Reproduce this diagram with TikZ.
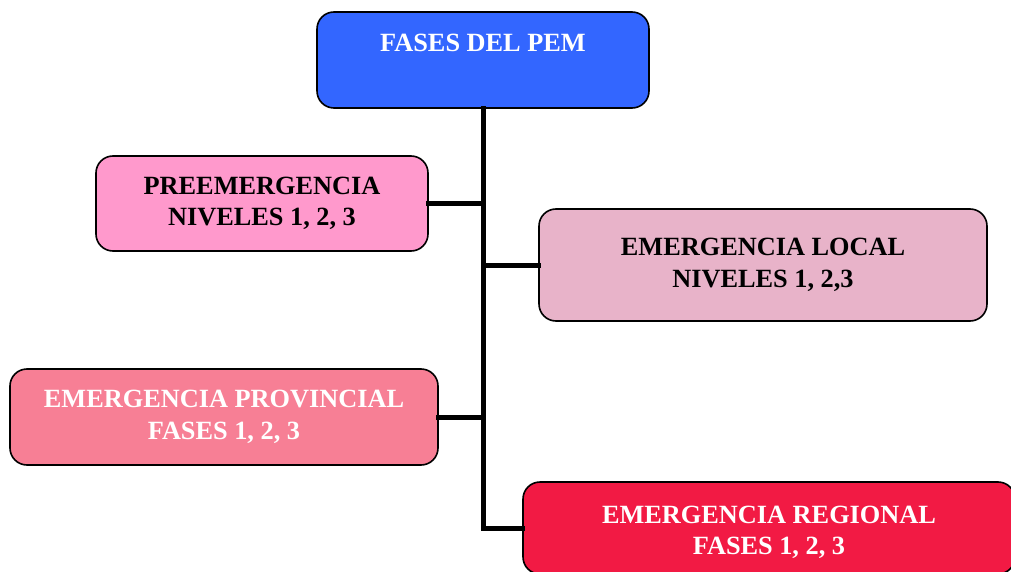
\documentclass[tikz,border=0pt]{standalone}
\usepackage{fontspec}
\setmainfont{Liberation Serif}
\definecolor{cblue}{HTML}{3366FF}
\definecolor{cpre}{HTML}{FF99CC}
\definecolor{clocal}{HTML}{E8B3C9}
\definecolor{cprov}{HTML}{F77F95}
\definecolor{creg}{HTML}{F21A44}
\begin{document}
\begin{tikzpicture}[x=1pt,y=-1pt,
  box/.style={draw=black, line width=1.6pt, rounded corners=17pt, inner sep=0pt, align=center,
    font=\fontsize{26.3pt}{31.5pt}\selectfont\bfseries},
  lbl/.style={inner sep=0pt, align=center, font=\fontsize{26.3pt}{31.5pt}\selectfont\bfseries},
  link/.style={line width=5pt, line cap=rect}]
\useasboundingbox (0,0) rectangle (1011,572);
\clip (0,0) rectangle (1011,572);
\node[box, fill=cblue, minimum width=332pt, minimum height=96pt] (top) at (483,60) {};
\node[lbl, text=white, anchor=base] (toptxt) at (483,52) {FASES DEL PEM};
\node[box, fill=cpre, minimum width=332pt, minimum height=95pt] (pre) at (262,203.5) {PREEMERGENCIA\\NIVELES 1, 2, 3};
\node[box, fill=clocal, minimum width=448pt, minimum height=112pt] (local) at (763,265) {EMERGENCIA LOCAL\\NIVELES 1, 2,3};
\node[box, fill=cprov, text=white, minimum width=428pt, minimum height=96pt] (prov) at (224,417) {EMERGENCIA PROVINCIAL\\FASES 1, 2, 3};
\node[box, fill=creg, minimum width=492pt, minimum height=92pt] (reg) at (769,528) {};
\node[lbl, text=white] (regtxt) at (769,532.5) {EMERGENCIA REGIONAL\\FASES 1, 2, 3};
\coordinate (bot) at (483,528);
\draw[link] (top.south) -- (bot) -- (reg.west);
\draw[link] (pre.east) -- (pre.east -| bot);
\draw[link] (local.west) -- (local.west -| bot);
\draw[link] (prov.east) -- (prov.east -| bot);
\end{tikzpicture}
\end{document}
